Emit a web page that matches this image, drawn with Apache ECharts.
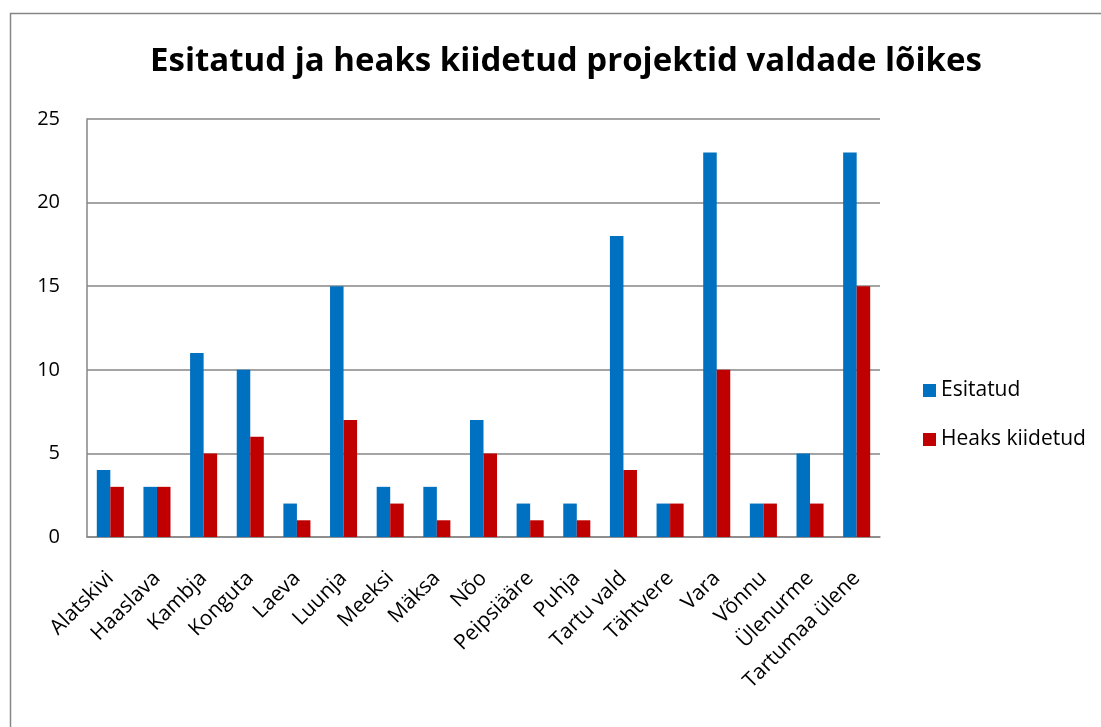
<!DOCTYPE html>
<html><head><meta charset="utf-8">
<script src="https://cdn.jsdelivr.net/npm/echarts@6/dist/echarts.min.js"></script>
<style>html,body{margin:0;padding:0;background:#fff}#c{width:1101px;height:727px}</style>
</head><body><div id="c"></div>
<script>
const categories = ['Alatskivi','Haaslava','Kambja','Konguta','Laeva','Luunja','Meeksi','Mäksa','Nõo','Peipsiääre','Puhja','Tartu vald','Tähtvere','Vara','Võnnu','Ülenurme','Tartumaa ülene'];
const esitatud = [4,3,11,10,2,15,3,3,7,2,2,18,2,23,2,5,23];
const heaksKiidetud = [3,3,5,6,1,7,2,1,5,1,1,4,2,10,2,2,15];
const yTicks = [0,5,10,15,20,25];

const font = 'Open Sans';
const chart = echarts.init(document.getElementById('c'));
chart.setOption({
  animation: false,
  title: {
    text: 'Esitatud ja heaks kiidetud projektid valdade lõikes',
    left: 561, top: 40, textAlign: 'center',
    textStyle: {fontFamily: font, fontSize: 33, fontWeight: 'bold', color: '#000'}
  },
  graphic: [{type:'rect', shape:{x:10.5,y:13.5,width:1200,height:800}, style:{fill:'none', stroke:'#868686', lineWidth:1.5}, silent:true}],
  legend: {
    orient: 'vertical', left: 918, top: 375, itemGap: 28,
    itemWidth: 13, itemHeight: 13, icon: 'rect',
    textStyle: {fontFamily: font, fontSize: 21, color: '#000'},
    data: ['Esitatud','Heaks kiidetud']
  },
  grid: {left: 87, top: 119, right: 1101-880, bottom: 727-537, containLabel: false},
  xAxis: {
    type: 'category', data: categories,
    axisLine: {lineStyle: {color: '#868686', width: 1.5}},
    axisTick: {show: false},
    axisLabel: {rotate: 45, interval: 0, fontFamily: font, fontSize: 21, color: '#000', margin: 38}
  },
  yAxis: {
    type: 'value', min: 0, max: 25, interval: 5,
    axisLine: {show: true, lineStyle: {color: '#868686', width: 1.5}},
    axisTick: {show: false},
    splitLine: {lineStyle: {color: '#868686', width: 1.5}},
    axisLabel: {fontFamily: font, fontSize: 20, color: '#000', margin: 27,
      formatter: v => yTicks.includes(v) ? String(v) : ''}
  },
  series: [
    {name: 'Esitatud', type: 'bar', data: esitatud, itemStyle: {color: '#0070C0'}, barGap: '0%', barCategoryGap: '42%'},
    {name: 'Heaks kiidetud', type: 'bar', data: heaksKiidetud, itemStyle: {color: '#C00000'}, barGap: '0%', barCategoryGap: '42%'}
  ]
});
</script></body></html>
